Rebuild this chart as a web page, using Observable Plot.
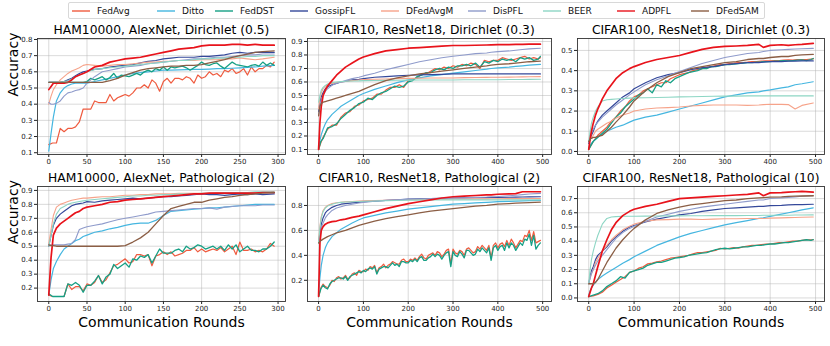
<!DOCTYPE html>
<html>
<head>
<meta charset="utf-8">
<script src="https://cdn.jsdelivr.net/npm/d3@7"></script>
<script src="https://cdn.jsdelivr.net/npm/@observablehq/plot@0.6"></script>
<style>
  html, body { margin: 0; padding: 0; background: #fff; }
  #root { position: relative; width: 830px; height: 346px; overflow: hidden; font-family: "DejaVu Sans", sans-serif; }
  #root svg { position: absolute; overflow: visible; }
  .leg { position: absolute; left: 68px; top: 2px; width: 697px; height: 17px; border: 1px solid #d8d8d8; border-radius: 2px; box-sizing: border-box; }
  .li { position: absolute; top: 0; height: 15px; display: flex; align-items: center; font-size: 9px; color: #111; white-space: nowrap; }
  .sw { width: 18px; height: 2px; margin-right: 7px; opacity: 0.7; }
</style>
</head>
<body>
<div id="root"></div>
<script>
// ---------- names, colours, ticks ----------
const methods = ["FedAvg","Ditto","FedDST","GossipFL","DFedAvgM","DisPFL","BEER","ADPFL","DFedSAM"];
const colors  = ["#ef5b3f","#45b6e0","#16a085","#34489a","#f6a38a","#8f9bcb","#8dd6c4","#e8131b","#8b5e45"];
const titles = [
  "HAM10000, AlexNet, Dirichlet (0.5)","CIFAR10, ResNet18, Dirichlet (0.3)","CIFAR100, ResNet18, Dirichlet (0.3)",
  "HAM10000, AlexNet, Pathological (2)","CIFAR10, ResNet18, Pathological (2)","CIFAR100, ResNet18, Pathological (10)"
];
const hamXTicks = [0,50,100,150,200,250,300];
const cifarXTicks = [0,100,200,300,400,500];
const yTicks1 = [0.1,0.2,0.3,0.4,0.5,0.6,0.7,0.8];
const yTicks2 = [0.1,0.2,0.3,0.4,0.5,0.6,0.7,0.8,0.9];
const yTicks3 = [0.0,0.1,0.2,0.3,0.4,0.5];
const yTicks4 = [0.2,0.3,0.4,0.5,0.6,0.7,0.8,0.9];
const yTicks5 = [0.2,0.4,0.6,0.8];
const yTicks6 = [0.0,0.1,0.2,0.3,0.4,0.5,0.6,0.7];

// ---------- round grids ----------
const hamSmoothRounds = [0,3,6,10,15,20,25,30,35,40,45,50,60,70,80,90,100,110,120,130,140,150,160,170,180,190,200,210,220,230,240,250,260,270,280,295];
const hamNoisyRounds = [0,5,10,15,20,25,30,35,40,45,50,55,60,65,70,75,80,85,90,95,100,105,110,115,120,125,130,135,140,145,150,155,160,165,170,175,180,185,190,195,200,205,210,215,220,225,230,235,240,245,250,255,260,265,270,275,280,285,290,295];
const cifarSmoothRounds = [0,3,6,10,15,20,30,40,50,60,75,90,100,125,150,175,200,225,250,275,300,325,350,375,385,400,425,440,455,470,495];
const cifarNoisyRounds = [0,5,10,20,30,40,50,60,70,80,90,100,110,120,130,140,150,160,170,180,190,200,210,220,230,240,250,260,270,280,290,300,310,320,330,340,350,360,370,380,390,400,410,420,430,440,450,460,470,480,490,495];
const cifarDenseRounds = [0,5,10,15,20,25,30,35,40,45,50,55,60,65,70,75,80,85,90,95,100,105,110,115,120,125,130,135,140,145,150,155,160,165,170,175,180,185,190,195,200,205,210,215,220,225,230,235,240,245,250,255,260,265,270,275,280,285,290,295,300,305,310,315,320,325,330,335,340,345,350,355,360,365,370,375,380,385,390,395,400,405,410,415,420,425,430,435,440,445,450,455,460,465,470,475,480,485,490,495];

// ---------- Panel 1: HAM10000 Dirichlet (0.5) ----------
const p1_FedAvg = [0.15,0.16,0.16,0.25,0.23,0.25,0.25,0.26,0.29,0.37, 0.37,0.37,0.42,0.41,0.41,0.41,0.46,0.42,0.44,0.45, 0.46,0.45,0.47,0.50,0.50,0.52,0.50,0.55,0.53,0.48, 0.54,0.56,0.53,0.56,0.56,0.55,0.57,0.56,0.53,0.58, 0.56,0.57,0.60,0.58,0.59,0.57,0.61,0.60,0.62,0.59, 0.60,0.62,0.58,0.63,0.60,0.62,0.62,0.64,0.63,0.66];
const p1_FedDST = [0.535,0.535,0.535,0.535,0.535,0.535,0.535,0.535,0.535,0.535, 0.54,0.56,0.55,0.56,0.57,0.55,0.565,0.59,0.56,0.58, 0.575,0.57,0.58,0.59,0.58,0.60,0.61,0.60,0.62,0.61, 0.63,0.61,0.63,0.625,0.63,0.635,0.625,0.61,0.625,0.64, 0.66,0.645,0.64,0.65,0.655,0.635,0.62,0.64,0.66,0.645, 0.64,0.635,0.63,0.64,0.645,0.635,0.66,0.64,0.655,0.64];
const p1_Ditto = [0.11,0.22,0.32,0.42,0.47,0.50,0.515,0.525,0.53,0.53,0.53,0.53,0.54,0.55,0.56,0.57,0.58,0.59,0.595,0.60,0.605,0.61,0.61,0.612,0.614,0.615,0.615,0.617,0.62,0.62,0.622,0.625,0.628,0.63,0.635,0.64];
const p1_GossipFL = [0.535,0.535,0.535,0.535,0.535,0.54,0.55,0.56,0.575,0.59,0.60,0.605,0.615,0.62,0.63,0.635,0.64,0.645,0.655,0.665,0.67,0.68,0.685,0.69,0.69,0.69,0.695,0.695,0.70,0.705,0.715,0.72,0.715,0.72,0.72,0.72];
const p1_DFedAvgM = [0.40,0.45,0.49,0.52,0.55,0.57,0.59,0.605,0.615,0.625,0.64,0.645,0.64,0.635,0.64,0.645,0.645,0.65,0.655,0.66,0.66,0.665,0.665,0.67,0.67,0.67,0.675,0.675,0.675,0.68,0.68,0.685,0.68,0.675,0.68,0.69];
const p1_DisPFL = [0.41,0.40,0.40,0.405,0.42,0.45,0.47,0.475,0.485,0.49,0.50,0.53,0.57,0.60,0.61,0.62,0.63,0.635,0.64,0.65,0.655,0.66,0.665,0.67,0.675,0.68,0.68,0.685,0.69,0.69,0.695,0.70,0.705,0.705,0.71,0.71];
const p1_BEER = [0.535,0.535,0.535,0.535,0.535,0.54,0.545,0.555,0.57,0.58,0.59,0.60,0.615,0.62,0.625,0.63,0.635,0.64,0.645,0.65,0.655,0.66,0.665,0.67,0.67,0.675,0.68,0.68,0.685,0.685,0.69,0.69,0.695,0.695,0.70,0.70];
const p1_ADPFL = [0.49,0.51,0.53,0.53,0.53,0.53,0.535,0.55,0.57,0.58,0.59,0.60,0.63,0.64,0.66,0.67,0.68,0.685,0.69,0.70,0.71,0.72,0.73,0.74,0.745,0.75,0.76,0.765,0.765,0.765,0.77,0.77,0.765,0.77,0.765,0.765];
const p1_DFedSAM = [0.535,0.535,0.535,0.535,0.535,0.535,0.535,0.535,0.535,0.535,0.535,0.535,0.535,0.535,0.545,0.56,0.58,0.595,0.61,0.62,0.625,0.63,0.635,0.635,0.64,0.64,0.645,0.655,0.665,0.675,0.69,0.70,0.71,0.72,0.725,0.73];

// ---------- Panel 2: CIFAR10 Dirichlet (0.3) ----------
const p2_FedAvg = [0.10,0.15,0.19,0.25,0.28,0.28,0.34,0.37,0.38,0.42,0.43,0.46,0.47,0.48,0.51,0.51,0.54,0.56,0.56,0.58,0.56,0.61,0.62,0.63,0.66,0.66,0.68,0.70,0.69,0.71,0.70,0.72,0.71,0.73,0.72,0.74,0.73,0.70,0.76,0.75,0.76,0.76,0.78,0.77,0.76,0.77,0.78,0.79,0.77,0.78,0.77,0.78];
const p2_FedDST = [0.10,0.16,0.18,0.26,0.27,0.29,0.33,0.36,0.39,0.41,0.44,0.45,0.48,0.47,0.50,0.52,0.53,0.55,0.57,0.56,0.57,0.60,0.61,0.64,0.65,0.67,0.67,0.69,0.70,0.69,0.71,0.70,0.72,0.72,0.73,0.72,0.74,0.71,0.75,0.74,0.76,0.75,0.77,0.76,0.77,0.75,0.78,0.77,0.78,0.76,0.77,0.79];
const p2_Ditto = [0.12,0.17,0.21,0.25,0.29,0.32,0.36,0.39,0.42,0.44,0.47,0.50,0.515,0.545,0.57,0.595,0.615,0.63,0.645,0.655,0.665,0.675,0.685,0.695,0.70,0.705,0.71,0.715,0.72,0.725,0.73];
const p2_GossipFL = [0.38,0.45,0.49,0.52,0.55,0.565,0.58,0.59,0.60,0.605,0.615,0.62,0.625,0.635,0.64,0.645,0.65,0.652,0.655,0.657,0.66,0.66,0.66,0.66,0.66,0.66,0.66,0.66,0.66,0.66,0.66];
const p2_DFedAvgM = [0.40,0.48,0.52,0.55,0.57,0.58,0.59,0.595,0.60,0.605,0.61,0.615,0.618,0.62,0.622,0.625,0.627,0.628,0.63,0.63,0.63,0.632,0.633,0.634,0.635,0.635,0.636,0.637,0.638,0.639,0.64];
const p2_DisPFL = [0.35,0.42,0.47,0.50,0.53,0.55,0.575,0.59,0.60,0.61,0.625,0.635,0.645,0.665,0.69,0.71,0.73,0.75,0.765,0.78,0.79,0.80,0.81,0.815,0.82,0.825,0.83,0.835,0.84,0.845,0.85];
const p2_BEER = [0.45,0.50,0.54,0.56,0.575,0.585,0.595,0.60,0.603,0.605,0.607,0.608,0.61,0.611,0.612,0.613,0.614,0.615,0.615,0.615,0.615,0.616,0.616,0.617,0.617,0.617,0.618,0.618,0.618,0.619,0.62];
const p2_ADPFL = [0.10,0.30,0.42,0.50,0.54,0.57,0.61,0.65,0.68,0.71,0.74,0.77,0.785,0.81,0.83,0.84,0.85,0.855,0.86,0.865,0.87,0.87,0.872,0.874,0.875,0.876,0.877,0.878,0.879,0.88,0.88];
const p2_DFedSAM = [0.35,0.42,0.44,0.45,0.455,0.46,0.47,0.48,0.49,0.50,0.515,0.53,0.545,0.58,0.61,0.63,0.645,0.66,0.67,0.68,0.69,0.70,0.71,0.72,0.725,0.73,0.735,0.74,0.745,0.75,0.755];

// ---------- Panel 3: CIFAR100 Dirichlet (0.3) ----------
const p3_FedAvg = [0.01,0.03,0.05,0.08,0.10,0.12,0.15,0.17,0.20,0.22,0.25,0.27,0.28,0.30,0.31,0.32,0.33,0.34,0.34,0.36,0.37,0.38,0.385,0.39,0.40,0.405,0.41,0.415,0.42,0.425,0.43,0.43,0.435,0.437,0.44,0.44,0.442,0.445,0.445,0.447,0.448,0.448,0.45,0.45,0.452,0.453,0.452,0.455,0.455,0.455,0.457,0.458];
const p3_FedDST = [0.01,0.03,0.05,0.07,0.09,0.11,0.14,0.17,0.19,0.22,0.24,0.26,0.28,0.29,0.31,0.29,0.33,0.32,0.35,0.34,0.36,0.37,0.38,0.39,0.395,0.40,0.41,0.41,0.42,0.42,0.425,0.43,0.43,0.432,0.435,0.437,0.44,0.44,0.442,0.443,0.445,0.445,0.447,0.448,0.45,0.448,0.45,0.452,0.453,0.45,0.455,0.46];
const p3_Ditto = [0.02,0.03,0.04,0.05,0.06,0.07,0.085,0.10,0.11,0.12,0.13,0.145,0.155,0.17,0.18,0.195,0.21,0.225,0.24,0.255,0.27,0.28,0.29,0.295,0.30,0.305,0.315,0.32,0.33,0.335,0.345];
const p3_GossipFL = [0.04,0.06,0.08,0.10,0.13,0.15,0.18,0.20,0.22,0.24,0.27,0.29,0.31,0.34,0.365,0.38,0.39,0.405,0.415,0.42,0.43,0.435,0.44,0.44,0.442,0.445,0.445,0.447,0.447,0.448,0.448];
const p3_DFedAvgM = [0.05,0.06,0.07,0.08,0.10,0.11,0.125,0.14,0.15,0.165,0.18,0.19,0.20,0.21,0.215,0.217,0.22,0.225,0.228,0.23,0.23,0.23,0.228,0.23,0.232,0.234,0.233,0.232,0.21,0.228,0.24];
const p3_DisPFL = [0.05,0.07,0.09,0.11,0.13,0.145,0.17,0.19,0.21,0.23,0.255,0.28,0.295,0.33,0.355,0.375,0.395,0.415,0.435,0.45,0.465,0.475,0.485,0.49,0.495,0.50,0.503,0.505,0.507,0.508,0.51];
const p3_BEER = [0.05,0.10,0.14,0.17,0.20,0.22,0.25,0.256,0.258,0.26,0.262,0.264,0.265,0.266,0.267,0.268,0.27,0.271,0.272,0.273,0.274,0.274,0.275,0.275,0.275,0.275,0.275,0.275,0.275,0.275,0.275];
const p3_ADPFL = [0.01,0.06,0.10,0.14,0.18,0.21,0.26,0.30,0.33,0.36,0.39,0.41,0.42,0.44,0.455,0.465,0.475,0.49,0.505,0.515,0.52,0.522,0.525,0.53,0.515,0.525,0.528,0.525,0.528,0.53,0.535];
const p3_DFedSAM = [0.05,0.06,0.065,0.07,0.07,0.075,0.08,0.10,0.12,0.145,0.18,0.22,0.25,0.30,0.34,0.37,0.39,0.41,0.42,0.43,0.44,0.445,0.455,0.46,0.46,0.465,0.47,0.47,0.475,0.478,0.48];

// ---------- Panel 4: HAM10000 Pathological (2) ----------
const p4_FedAvg = [0.15,0.14,0.14,0.14,0.14,0.23,0.19,0.21,0.21,0.18, 0.23,0.22,0.24,0.29,0.24,0.26,0.31,0.36,0.37,0.39, 0.41,0.38,0.39,0.44,0.44,0.43,0.44,0.36,0.43,0.44, 0.46,0.44,0.46,0.43,0.44,0.45,0.47,0.47,0.49,0.46, 0.48,0.46,0.47,0.48,0.47,0.49,0.46,0.48,0.50,0.44, 0.53,0.47,0.47,0.48,0.46,0.47,0.46,0.48,0.52,0.50];
const p4_FedDST = [0.16,0.14,0.14,0.14,0.14,0.23,0.22,0.24,0.22,0.17, 0.22,0.22,0.25,0.29,0.23,0.28,0.30,0.37,0.34,0.36, 0.38,0.35,0.41,0.40,0.43,0.42,0.44,0.38,0.43,0.48, 0.45,0.45,0.45,0.47,0.48,0.46,0.50,0.48,0.49,0.51, 0.50,0.48,0.49,0.50,0.48,0.50,0.47,0.51,0.48,0.51, 0.46,0.48,0.50,0.47,0.47,0.46,0.48,0.48,0.50,0.53];
const p4_Ditto = [0.15,0.26,0.34,0.39,0.44,0.48,0.50,0.52,0.54,0.55,0.57,0.58,0.60,0.61,0.625,0.635,0.65,0.66,0.665,0.665,0.685,0.72,0.75,0.755,0.76,0.765,0.77,0.775,0.775,0.78,0.785,0.79,0.795,0.80,0.80,0.80];
const p4_GossipFL = [0.50,0.58,0.65,0.70,0.73,0.75,0.77,0.79,0.80,0.805,0.81,0.82,0.815,0.825,0.83,0.835,0.84,0.845,0.84,0.845,0.85,0.855,0.855,0.86,0.865,0.87,0.875,0.87,0.87,0.865,0.87,0.875,0.87,0.875,0.87,0.875];
const p4_DFedAvgM = [0.52,0.62,0.72,0.78,0.80,0.81,0.82,0.83,0.835,0.84,0.845,0.845,0.85,0.855,0.855,0.86,0.865,0.865,0.87,0.87,0.875,0.875,0.875,0.88,0.88,0.88,0.88,0.88,0.885,0.885,0.885,0.885,0.885,0.885,0.885,0.885];
const p4_DisPFL = [0.51,0.51,0.51,0.51,0.51,0.51,0.515,0.52,0.55,0.62,0.63,0.64,0.65,0.66,0.675,0.69,0.70,0.71,0.72,0.73,0.745,0.75,0.755,0.76,0.765,0.77,0.77,0.775,0.765,0.78,0.785,0.79,0.79,0.79,0.795,0.795];
const p4_BEER = [0.50,0.58,0.66,0.73,0.77,0.785,0.80,0.81,0.815,0.82,0.825,0.83,0.835,0.84,0.845,0.85,0.855,0.86,0.86,0.865,0.865,0.87,0.87,0.875,0.875,0.875,0.88,0.88,0.88,0.885,0.885,0.885,0.885,0.89,0.89,0.89];
const p4_ADPFL = [0.15,0.42,0.58,0.63,0.66,0.68,0.70,0.72,0.74,0.75,0.77,0.78,0.79,0.80,0.815,0.82,0.83,0.835,0.84,0.845,0.85,0.855,0.86,0.865,0.87,0.875,0.875,0.88,0.88,0.88,0.88,0.88,0.88,0.88,0.885,0.885];
const p4_DFedSAM = [0.51,0.505,0.505,0.50,0.50,0.50,0.50,0.50,0.50,0.50,0.50,0.50,0.50,0.50,0.50,0.50,0.505,0.53,0.56,0.60,0.66,0.72,0.77,0.785,0.80,0.815,0.815,0.83,0.84,0.85,0.855,0.865,0.87,0.875,0.88,0.885];

// ---------- Panel 5: CIFAR10 Pathological (2) ----------
const p5_FedAvg = [0.07,0.14,0.17,0.15,0.14,0.16,0.20,0.19,0.22,0.23, 0.21,0.22,0.24,0.21,0.22,0.25,0.26,0.24,0.28,0.27, 0.27,0.29,0.28,0.31,0.30,0.32,0.26,0.30,0.31,0.33, 0.30,0.32,0.33,0.35,0.34,0.33,0.33,0.36,0.37,0.35, 0.35,0.37,0.36,0.38,0.36,0.39,0.41,0.38,0.37,0.40, 0.41,0.42,0.40,0.43,0.42,0.39,0.41,0.44,0.45,0.33, 0.45,0.42,0.41,0.44,0.43,0.40,0.45,0.46,0.44,0.42, 0.43,0.47,0.45,0.48,0.46,0.44,0.48,0.38,0.48,0.50, 0.46,0.49,0.50,0.47,0.52,0.48,0.53,0.50,0.46,0.49, 0.52,0.51,0.56,0.55,0.60,0.52,0.59,0.50,0.51,0.52];
const p5_FedDST = [0.07,0.13,0.16,0.14,0.13,0.17,0.19,0.20,0.21,0.22, 0.22,0.21,0.23,0.20,0.23,0.24,0.25,0.26,0.27,0.26, 0.28,0.27,0.29,0.30,0.29,0.31,0.25,0.29,0.30,0.31, 0.31,0.30,0.32,0.34,0.32,0.33,0.31,0.35,0.35,0.34, 0.34,0.36,0.35,0.37,0.35,0.38,0.39,0.36,0.36,0.38, 0.39,0.41,0.39,0.41,0.40,0.37,0.40,0.42,0.43,0.31, 0.43,0.40,0.39,0.43,0.41,0.38,0.44,0.44,0.42,0.40, 0.41,0.45,0.43,0.46,0.44,0.42,0.46,0.36,0.46,0.48, 0.44,0.47,0.48,0.44,0.50,0.46,0.50,0.48,0.44,0.47, 0.50,0.48,0.53,0.52,0.57,0.48,0.56,0.45,0.48,0.50];
const p5_Ditto = [0.10,0.22,0.32,0.40,0.46,0.50,0.55,0.58,0.61,0.63,0.66,0.685,0.70,0.72,0.74,0.755,0.77,0.78,0.79,0.80,0.81,0.815,0.82,0.825,0.827,0.83,0.833,0.835,0.837,0.838,0.84];
const p5_GossipFL = [0.50,0.58,0.65,0.70,0.74,0.76,0.785,0.80,0.81,0.815,0.82,0.825,0.83,0.835,0.84,0.845,0.85,0.852,0.855,0.857,0.86,0.861,0.862,0.863,0.864,0.865,0.866,0.867,0.868,0.869,0.87];
const p5_DFedAvgM = [0.50,0.63,0.71,0.76,0.785,0.80,0.815,0.822,0.826,0.83,0.832,0.835,0.837,0.84,0.842,0.844,0.846,0.848,0.85,0.851,0.852,0.852,0.853,0.853,0.854,0.854,0.855,0.855,0.855,0.856,0.856];
const p5_DisPFL = [0.50,0.56,0.62,0.66,0.70,0.725,0.76,0.78,0.79,0.80,0.81,0.82,0.825,0.835,0.84,0.845,0.85,0.852,0.855,0.857,0.86,0.862,0.865,0.868,0.87,0.872,0.878,0.882,0.887,0.892,0.897];
const p5_BEER = [0.50,0.62,0.70,0.75,0.78,0.795,0.81,0.82,0.825,0.828,0.83,0.832,0.834,0.836,0.838,0.84,0.842,0.843,0.844,0.845,0.845,0.845,0.845,0.845,0.845,0.845,0.845,0.845,0.845,0.845,0.845];
const p5_ADPFL = [0.07,0.50,0.60,0.63,0.65,0.66,0.67,0.675,0.685,0.69,0.705,0.715,0.725,0.75,0.775,0.795,0.815,0.83,0.845,0.86,0.87,0.875,0.88,0.885,0.885,0.89,0.893,0.895,0.91,0.91,0.91];
const p5_DFedSAM = [0.50,0.51,0.52,0.53,0.54,0.55,0.565,0.58,0.59,0.60,0.62,0.64,0.65,0.675,0.695,0.71,0.725,0.74,0.755,0.765,0.775,0.785,0.795,0.80,0.805,0.81,0.815,0.818,0.82,0.823,0.827];

// ---------- Panel 6: CIFAR100 Pathological (10) ----------
const p6_FedAvg = [0.01,0.012,0.015,0.025,0.04,0.07,0.09,0.11,0.13,0.15,0.18,0.19,0.21,0.22,0.24,0.245,0.255,0.26,0.27,0.28,0.285,0.29,0.295,0.30,0.31,0.32,0.32,0.325,0.33,0.335,0.35,0.345,0.35,0.355,0.35,0.36,0.365,0.37,0.37,0.375,0.38,0.38,0.385,0.39,0.39,0.395,0.40,0.40,0.405,0.41,0.41,0.41];
const p6_FedDST = [0.01,0.015,0.02,0.03,0.05,0.08,0.10,0.12,0.15,0.14,0.18,0.19,0.20,0.21,0.23,0.24,0.25,0.25,0.26,0.27,0.28,0.285,0.29,0.30,0.305,0.31,0.315,0.32,0.33,0.34,0.345,0.35,0.345,0.35,0.355,0.36,0.36,0.365,0.37,0.37,0.375,0.38,0.38,0.385,0.39,0.39,0.395,0.40,0.405,0.41,0.405,0.41];
const p6_Ditto = [0.02,0.05,0.07,0.09,0.11,0.13,0.155,0.175,0.195,0.215,0.245,0.27,0.29,0.33,0.37,0.40,0.43,0.455,0.475,0.495,0.515,0.53,0.545,0.56,0.565,0.575,0.59,0.60,0.61,0.62,0.635];
const p6_GossipFL = [0.10,0.15,0.19,0.22,0.27,0.30,0.33,0.36,0.40,0.43,0.47,0.50,0.51,0.535,0.555,0.57,0.585,0.595,0.61,0.62,0.63,0.635,0.64,0.645,0.645,0.65,0.652,0.655,0.657,0.658,0.66];
const p6_DFedAvgM = [0.10,0.14,0.17,0.20,0.25,0.28,0.33,0.37,0.41,0.44,0.48,0.505,0.52,0.54,0.55,0.552,0.555,0.555,0.553,0.555,0.558,0.558,0.56,0.56,0.56,0.562,0.564,0.566,0.567,0.568,0.57];
const p6_DisPFL = [0.10,0.14,0.17,0.20,0.23,0.26,0.30,0.34,0.38,0.42,0.46,0.49,0.505,0.54,0.57,0.59,0.61,0.625,0.64,0.65,0.66,0.67,0.68,0.69,0.69,0.70,0.705,0.708,0.712,0.716,0.72];
const p6_BEER = [0.10,0.20,0.27,0.33,0.39,0.44,0.52,0.56,0.57,0.573,0.575,0.575,0.575,0.576,0.577,0.578,0.578,0.579,0.579,0.58,0.58,0.58,0.581,0.581,0.582,0.582,0.583,0.583,0.584,0.584,0.585];
const p6_ADPFL = [0.01,0.04,0.07,0.10,0.16,0.22,0.33,0.41,0.48,0.53,0.58,0.61,0.625,0.645,0.66,0.68,0.70,0.705,0.71,0.715,0.72,0.725,0.73,0.74,0.72,0.74,0.742,0.745,0.748,0.75,0.745];
const p6_DFedSAM = [0.10,0.10,0.10,0.10,0.11,0.13,0.19,0.25,0.30,0.35,0.41,0.46,0.49,0.55,0.595,0.62,0.64,0.655,0.665,0.675,0.685,0.69,0.70,0.705,0.707,0.71,0.712,0.715,0.717,0.718,0.72];

// ---------- assembly ----------
function series(roundsArr, vals) {
  const n = Math.min(roundsArr.length, vals.length);
  const out = [];
  for (let i = 0; i < n; i++) out.push({x: roundsArr[i], y: vals[i]});
  return out;
}
const panelSeries = [
  [[hamNoisyRounds,p1_FedAvg],[hamSmoothRounds,p1_Ditto],[hamNoisyRounds,p1_FedDST],[hamSmoothRounds,p1_GossipFL],[hamSmoothRounds,p1_DFedAvgM],[hamSmoothRounds,p1_DisPFL],[hamSmoothRounds,p1_BEER],[hamSmoothRounds,p1_ADPFL],[hamSmoothRounds,p1_DFedSAM]],
  [[cifarNoisyRounds,p2_FedAvg],[cifarSmoothRounds,p2_Ditto],[cifarNoisyRounds,p2_FedDST],[cifarSmoothRounds,p2_GossipFL],[cifarSmoothRounds,p2_DFedAvgM],[cifarSmoothRounds,p2_DisPFL],[cifarSmoothRounds,p2_BEER],[cifarSmoothRounds,p2_ADPFL],[cifarSmoothRounds,p2_DFedSAM]],
  [[cifarNoisyRounds,p3_FedAvg],[cifarSmoothRounds,p3_Ditto],[cifarNoisyRounds,p3_FedDST],[cifarSmoothRounds,p3_GossipFL],[cifarSmoothRounds,p3_DFedAvgM],[cifarSmoothRounds,p3_DisPFL],[cifarSmoothRounds,p3_BEER],[cifarSmoothRounds,p3_ADPFL],[cifarSmoothRounds,p3_DFedSAM]],
  [[hamNoisyRounds,p4_FedAvg],[hamSmoothRounds,p4_Ditto],[hamNoisyRounds,p4_FedDST],[hamSmoothRounds,p4_GossipFL],[hamSmoothRounds,p4_DFedAvgM],[hamSmoothRounds,p4_DisPFL],[hamSmoothRounds,p4_BEER],[hamSmoothRounds,p4_ADPFL],[hamSmoothRounds,p4_DFedSAM]],
  [[cifarDenseRounds,p5_FedAvg],[cifarSmoothRounds,p5_Ditto],[cifarDenseRounds,p5_FedDST],[cifarSmoothRounds,p5_GossipFL],[cifarSmoothRounds,p5_DFedAvgM],[cifarSmoothRounds,p5_DisPFL],[cifarSmoothRounds,p5_BEER],[cifarSmoothRounds,p5_ADPFL],[cifarSmoothRounds,p5_DFedSAM]],
  [[cifarNoisyRounds,p6_FedAvg],[cifarSmoothRounds,p6_Ditto],[cifarNoisyRounds,p6_FedDST],[cifarSmoothRounds,p6_GossipFL],[cifarSmoothRounds,p6_DFedAvgM],[cifarSmoothRounds,p6_DisPFL],[cifarSmoothRounds,p6_BEER],[cifarSmoothRounds,p6_ADPFL],[cifarSmoothRounds,p6_DFedSAM]]
];

// layout (pixel geometry of each axes frame)
const cols = [[37,285],[307,551],[577,824]];
const rows = [[38,154],[186,301]];
const hamX = [-14.75, 309.75], cifarX = [-24.75, 519.75];
const layout = [
  {col:0,row:0,xd:hamX,  xt:hamXTicks,  yd:[0.089,0.806], yt:yTicks1},
  {col:1,row:0,xd:cifarX,xt:cifarXTicks,yd:[0.063,0.922], yt:yTicks2},
  {col:2,row:0,xd:cifarX,xt:cifarXTicks,yd:[-0.015,0.559],yt:yTicks3},
  {col:0,row:1,xd:hamX,  xt:hamXTicks,  yd:[0.104,0.928], yt:yTicks4},
  {col:1,row:1,xd:cifarX,xt:cifarXTicks,yd:[0.03,0.952],  yt:yTicks5},
  {col:2,row:1,xd:cifarX,xt:cifarXTicks,yd:[-0.025,0.785],yt:yTicks6}
];
const widths = [1.2,1.2,1.3,1.2,1.1,1.1,1.1,1.7,1.3];

const root = document.getElementById("root");
layout.forEach((L, k) => {
  const [fl, fr] = cols[L.col];
  const [ft, fb] = rows[L.row];
  const mL = L.col === 0 ? 37 : 26, mR = 4, mT = 22, mB = L.row === 1 ? 34 : 14;
  const W = mL + (fr - fl) + mR, H = mT + (fb - ft) + mB;
  const lines = panelSeries[k].map(([r, v], i) =>
    Plot.line(series(r, v), {x: "x", y: "y", stroke: colors[i], strokeWidth: widths[i], clip: true}));
  const marks = [
    Plot.gridX(L.xt, {stroke: "#b0b0b0", strokeOpacity: 0.6, strokeWidth: 0.8}),
    Plot.gridY(L.yt, {stroke: "#b0b0b0", strokeOpacity: 0.6, strokeWidth: 0.8}),
    Plot.axisX(L.xt, {tickSize: 3, tickPadding: 1.5, fontSize: 7, label: null, tickFormat: d => String(d), stroke: "#222"}),
    Plot.axisY(L.yt, {tickSize: 3, tickPadding: 2, fontSize: 7, label: null, tickFormat: d3.format(".1f"), stroke: "#222"}),
    ...lines,
    Plot.frame({stroke: "#333", strokeWidth: 0.9}),
    Plot.text([titles[k]], {frameAnchor: "top", dy: -5, lineAnchor: "bottom", fontSize: 12.3, fill: "#000"})
  ];
  if (L.col === 0) marks.push(Plot.text(["Accuracy"], {frameAnchor: "left", dx: -24, rotate: -90, lineAnchor: "middle", fontSize: 14, fill: "#000"}));
  if (L.row === 1) marks.push(Plot.text(["Communication Rounds"], {frameAnchor: "bottom", dy: 25, lineAnchor: "bottom", fontSize: 14, fill: "#000"}));
  const svg = Plot.plot({
    width: W, height: H, marginLeft: mL, marginRight: mR, marginTop: mT, marginBottom: mB,
    style: {fontFamily: "DejaVu Sans", fontSize: "7px", color: "#222", background: "transparent", overflow: "visible"},
    x: {domain: L.xd}, y: {domain: L.yd},
    marks
  });
  svg.style.left = (fl - mL) + "px";
  svg.style.top = (ft - mT) + "px";
  root.appendChild(svg);
});

// legend
const legendX = [72,157,215,290,381,468,543,617,691];
const leg = document.createElement("div");
leg.className = "leg";
methods.forEach((m, i) => {
  const it = document.createElement("div");
  it.className = "li";
  it.style.left = (legendX[i] - 68 - 1) + "px";
  const sw = document.createElement("div");
  sw.className = "sw";
  sw.style.background = colors[i];
  const tx = document.createElement("span");
  tx.textContent = m;
  it.appendChild(sw); it.appendChild(tx);
  leg.appendChild(it);
});
root.appendChild(leg);
</script>
</body>
</html>
